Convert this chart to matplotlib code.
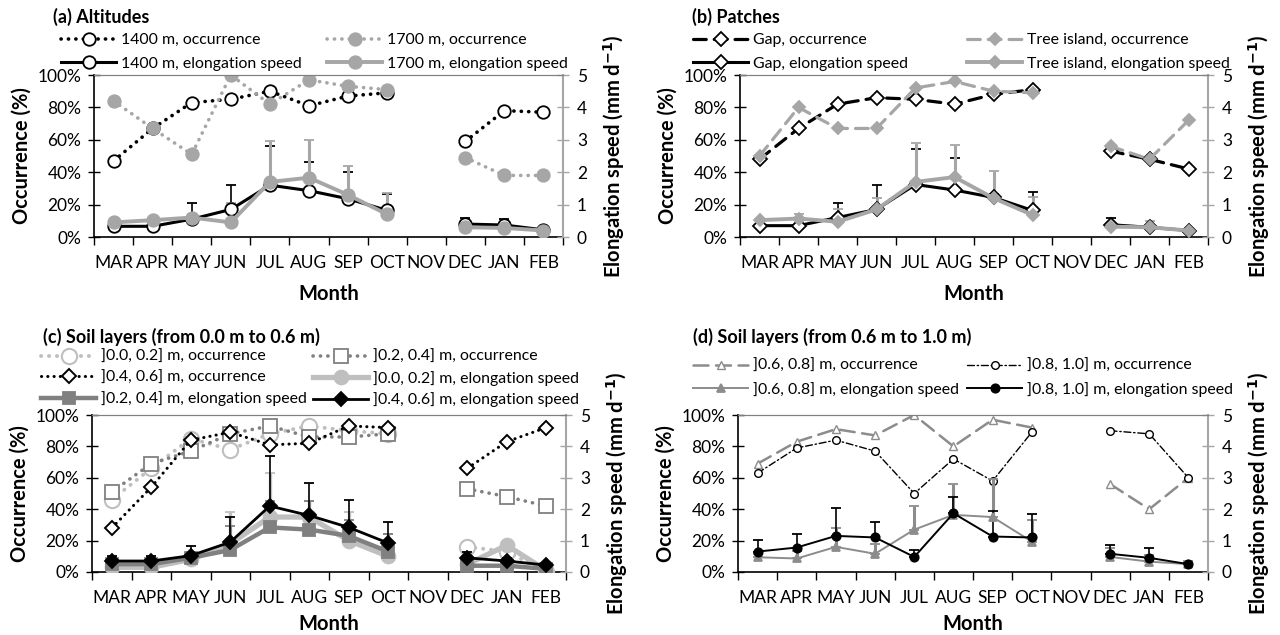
import numpy as np
import matplotlib
matplotlib.use("Agg")
import matplotlib.pyplot as plt
from matplotlib.lines import Line2D
from matplotlib.ticker import FuncFormatter, FixedLocator, NullFormatter

plt.rcParams['font.family'] = ['Lato', 'DejaVu Sans']

N = np.nan
months = ['MAR', 'APR', 'MAY', 'JUN', 'JUL', 'AUG', 'SEP', 'OCT', 'NOV', 'DEC', 'JAN', 'FEB']

# (a) Altitudes -- occurrence in %, elongation speed in mm/d, upper error in mm/d
occ_1400 = [47, 67, 83, 85, 90, 81, 87, 89, N, 59, 78, 77]
occ_1700 = [84, 67, 51, 100, 82, 97, 93, 91, N, 49, 38, 38]
el_1400 = [0.33, 0.33, 0.55, 0.85, 1.60, 1.43, 1.18, 0.82, N, 0.40, 0.37, 0.22]
err_1400 = [0.02, 0.02, 0.50, 0.75, 1.20, 0.87, 0.82, 0.50, N, 0.20, 0.18, 0.05]
el_1700 = [0.45, 0.52, 0.60, 0.45, 1.70, 1.83, 1.30, 0.70, N, 0.30, 0.28, 0.20]
err_1700 = [0.05, 0.05, 0.10, 0.60, 1.25, 1.17, 0.90, 0.65, N, 0.05, 0.05, 0.05]

# (b) Patches
occ_gap = [48, 67, 82, 86, 85, 82, 88, 91, N, 53, 48, 42]
occ_tree = [50, 80, 67, 67, 92, 96, 90, 89, N, 56, 48, 72]
el_gap = [0.35, 0.35, 0.60, 0.85, 1.62, 1.45, 1.22, 0.82, N, 0.38, 0.30, 0.20]
err_gap = [0.02, 0.02, 0.45, 0.75, 1.10, 1.00, 0.10, 0.58, N, 0.22, 0.05, 0.03]
el_tree = [0.52, 0.57, 0.47, 0.85, 1.70, 1.85, 1.20, 0.68, N, 0.32, 0.30, 0.20]
err_tree = [0.05, 0.13, 0.38, 0.35, 1.20, 1.00, 0.85, 0.57, N, 0.10, 0.20, 0.05]

# (c) Soil layers 0.0 - 0.6 m
occ_00_02 = [46, 66, 85, 78, 88, 93, 90, 88, N, 16, 13, 0]
occ_02_04 = [51, 69, 77, 88, 93, 86, 86, 88, N, 53, 48, 42]
occ_04_06 = [28, 54, 84, 89, 81, 82, 93, 92, N, 66, 83, 92]
el_00_02 = [0.15, 0.15, 0.40, 0.90, 1.75, 1.75, 1.00, 0.50, N, 0.25, 0.85, 0.05]
err_00_02 = [0.05, 0.05, 0.10, 1.00, 1.40, 0.50, 0.90, 0.70, N, 0.05, 0.05, 0.02]
el_02_04 = [0.25, 0.25, 0.45, 0.70, 1.42, 1.35, 1.15, 0.65, N, 0.20, 0.20, 0.10]
err_02_04 = [0.10, 0.10, 0.20, 0.75, 0.83, 0.90, 0.50, 0.55, N, 0.05, 0.05, 0.02]
el_04_06 = [0.35, 0.35, 0.52, 0.95, 2.10, 1.80, 1.42, 0.92, N, 0.45, 0.35, 0.22]
err_04_06 = [0.15, 0.15, 0.30, 0.80, 1.60, 1.05, 0.88, 0.68, N, 0.20, 0.10, 0.05]

# (d) Soil layers 0.6 - 1.0 m
occ_06_08 = [69, 83, 91, 87, 100, 80, 97, 92, N, 56, 40, 60]
occ_08_10 = [63, 79, 84, 77, 50, 72, 58, 89, N, 90, 88, 60]
el_06_08 = [0.47, 0.43, 0.80, 0.58, 1.35, 1.82, 1.75, 0.97, N, 0.48, 0.33, 0.25]
err_06_08 = [0.10, 0.25, 0.60, 0.30, 0.75, 0.98, 1.20, 0.68, N, 0.30, 0.20, 0.10]
el_08_10 = [0.65, 0.78, 1.15, 1.10, 0.48, 1.87, 1.13, 1.10, N, 0.58, 0.45, 0.25]
err_08_10 = [0.37, 0.42, 0.90, 0.50, 0.22, 0.53, 0.82, 0.75, N, 0.27, 0.30, 0.05]

BLACK = '#000000'
GRAY = '#A6A6A6'
LIGHT = '#BFBFBF'
MID = '#808080'
DGRAY = '#8C8C8C'

DOT = (0, (0.05, 2.0))
DASH = (0, (4, 2.5))
LDASH = (0, (6, 3))
DASHDOT = (0, (5, 2, 1, 2))

W, H = 1280, 635
fig = plt.figure(figsize=(W / 100, H / 100), dpi=100)
x = np.arange(len(months))


def px(x0, y0, x1, y1):
    return [x0 / W, 1 - y1 / H, (x1 - x0) / W, (y1 - y0) / H]


def setup(rect, month_pad):
    ax = fig.add_axes(rect)
    ax2 = ax.twinx()
    ax.set_xlim(-0.5, 11.5)
    ax.set_ylim(0, 1)
    ax2.set_ylim(0, 5)
    ax.set_yticks(np.linspace(0, 1, 6))
    ax.yaxis.set_major_formatter(FuncFormatter(lambda v, p: f"{v * 100:.0f}%"))
    ax2.set_yticks(range(6))
    ax.xaxis.set_major_locator(FixedLocator(np.arange(-0.5, 12, 1)))
    ax.xaxis.set_major_formatter(NullFormatter())
    ax.xaxis.set_minor_locator(FixedLocator(x))
    ax.set_xticklabels(months, minor=True)
    ax.tick_params(axis='x', which='major', direction='out', length=6, width=1, color=BLACK)
    ax.tick_params(axis='x', which='minor', length=0, pad=13, labelsize=12.5)
    ax.tick_params(axis='y', direction='inout', length=8, width=1, color=BLACK, labelsize=12.5, pad=5)
    ax2.tick_params(axis='y', direction='inout', length=8, width=1, color=GRAY, labelsize=12.5, pad=6)
    for s in ['left', 'bottom']:
        ax.spines[s].set_color(BLACK)
        ax.spines[s].set_linewidth(1.2)
    ax.spines['top'].set_color(MID)
    ax.spines['right'].set_visible(False)
    ax2.spines['left'].set_visible(False)
    ax2.spines['bottom'].set_visible(False)
    ax2.spines['top'].set_color(MID)
    ax2.spines['right'].set_color(GRAY)
    ax2.spines['right'].set_linewidth(1.5)
    ax.set_ylabel('Occurrence (%)', fontsize=14.5, fontweight='bold', labelpad=4)
    ax2.set_ylabel('Elongation speed (mm d$^{\\mathbf{-1}}$)', fontsize=14.5, fontweight='bold', labelpad=10)
    ax.set_xlabel('Month', fontsize=14.5, fontweight='bold', labelpad=month_pad)
    return ax, ax2


def occ(ax, vals, color, ls, lw, marker, ms, mfc, mec=None, mew=1.3):
    v = np.array(vals, dtype=float) / 100
    ax.plot(x, v, color=color, linestyle=ls, linewidth=lw, dash_capstyle='round',
            marker=marker, markersize=ms, markerfacecolor=mfc,
            markeredgecolor=mec or color, markeredgewidth=mew, zorder=3)
    return Line2D([], [], color=color, linestyle=ls, linewidth=lw, dash_capstyle='round',
                  marker=marker, markersize=ms, markerfacecolor=mfc,
                  markeredgecolor=mec or color, markeredgewidth=mew)


def elong(ax2, vals, err, color, lw, marker, ms, mfc, mec=None, elw=1.3, mew=1.3):
    v = np.array(vals, dtype=float)
    e = np.array(err, dtype=float)
    ax2.errorbar(x, v, yerr=[np.zeros_like(e), e], color=color, linewidth=lw,
                 marker=marker, markersize=ms, markerfacecolor=mfc,
                 markeredgecolor=mec or color, markeredgewidth=mew,
                 ecolor=color, elinewidth=elw, capsize=3.5, capthick=elw, zorder=3)
    return Line2D([], [], color=color, linewidth=lw, marker=marker, markersize=ms,
                  markerfacecolor=mfc, markeredgecolor=mec or color, markeredgewidth=mew)


def legend_col(handles, labels, x0, y0, rowgap):
    fig.legend(handles, labels, loc='upper left', bbox_to_anchor=(x0 / W, 1 - y0 / H),
               frameon=False, fontsize=11.4, handlelength=3.5, handletextpad=0.3,
               borderpad=0, borderaxespad=0, labelspacing=rowgap)


# ---------- (a) Altitudes ----------
ax, ax2 = setup(px(94, 75, 563, 237), 9.5)
h1 = occ(ax, occ_1400, BLACK, DOT, 2.6, 'o', 9, 'white')
h2 = occ(ax, occ_1700, GRAY, DOT, 2.6, 'o', 9, GRAY)
h3 = elong(ax2, el_1400, err_1400, BLACK, 2.2, 'o', 9, 'white', elw=1.2)
h4 = elong(ax2, el_1700, err_1700, GRAY, 2.8, 'o', 9, GRAY, elw=2.2)
fig.text(53 / W, 1 - 17 / H, '(a) Altitudes', fontsize=13, fontweight='bold', va='center')
legend_col([h1, h3], ['1400 m, occurrence', '1400 m, elongation speed'], 61, 33, 0.6)
legend_col([h2, h4], ['1700 m, occurrence', '1700 m, elongation speed'], 327, 33, 0.6)

# ---------- (b) Patches ----------
ax, ax2 = setup(px(740, 75, 1208, 237), 9.5)
h1 = occ(ax, occ_gap, BLACK, DASH, 2.3, 'D', 7, 'white')
h2 = occ(ax, occ_tree, GRAY, DASH, 2.3, 'D', 6.5, GRAY)
h3 = elong(ax2, el_gap, err_gap, BLACK, 2.2, 'D', 7, 'white', elw=1.2)
h4 = elong(ax2, el_tree, err_tree, GRAY, 2.8, 'D', 6.5, GRAY, elw=2.2)
fig.text(692 / W, 1 - 17 / H, '(b) Patches', fontsize=13, fontweight='bold', va='center')
legend_col([h1, h3], ['Gap, occurrence', 'Gap, elongation speed'], 693, 33, 0.6)
legend_col([h2, h4], ['Tree island, occurrence', 'Tree island, elongation speed'], 967, 33, 0.6)

# ---------- (c) Soil layers 0.0 - 0.6 m ----------
ax, ax2 = setup(px(92, 415, 566, 572), 6)
h1 = occ(ax, occ_00_02, LIGHT, DOT, 2.8, 'o', 11, 'white', mew=1.5)
h2 = occ(ax, occ_02_04, MID, DOT, 2.6, 's', 9.5, 'white', mew=1.3)
h3 = occ(ax, occ_04_06, BLACK, DOT, 2.2, 'D', 7.5, 'white', mew=1.4)
h4 = elong(ax2, el_00_02, err_00_02, LIGHT, 3.8, 'o', 10, LIGHT, elw=2.4)
h5 = elong(ax2, el_02_04, err_02_04, MID, 3.2, 's', 8.5, MID, elw=2.2)
h6 = elong(ax2, el_04_06, err_04_06, BLACK, 2.0, 'D', 7, BLACK, elw=1.2)
fig.text(43 / W, 1 - 337 / H, '(c) Soil layers (from 0.0 m to 0.6 m)', fontsize=13, fontweight='bold', va='center')
legend_col([h1, h3, h5], [']0.0, 0.2] m, occurrence', ']0.4, 0.6] m, occurrence',
                          ']0.2, 0.4] m, elongation speed'], 41, 350, 0.42)
legend_col([h2, h4, h6], [']0.2, 0.4] m, occurrence', ']0.0, 0.2] m, elongation speed',
                          ']0.4, 0.6] m, elongation speed'], 313, 350, 0.42)

# ---------- (d) Soil layers 0.6 - 1.0 m ----------
ax, ax2 = setup(px(738, 415, 1208, 572), 6)
h1 = occ(ax, occ_06_08, DGRAY, LDASH, 1.8, '^', 6, 'white', mew=1.0)
h2 = occ(ax, occ_08_10, BLACK, DASHDOT, 1.0, 'o', 5.5, 'white', mew=1.0)
h3 = elong(ax2, el_06_08, err_06_08, DGRAY, 1.4, '^', 6, DGRAY, elw=2.2)
h4 = elong(ax2, el_08_10, err_08_10, BLACK, 1.4, 'o', 6, BLACK, elw=1.2)
fig.text(693 / W, 1 - 337 / H, '(d) Soil layers (from 0.6 m to 1.0 m)', fontsize=13, fontweight='bold', va='center')
legend_col([h1, h3], [']0.6, 0.8] m, occurrence', ']0.6, 0.8] m, elongation speed'], 693, 359, 0.55)
legend_col([h2, h4], [']0.8, 1.0] m, occurrence', ']0.8, 1.0] m, elongation speed'], 967, 359, 0.55)

fig.savefig('out.png', dpi=100)
